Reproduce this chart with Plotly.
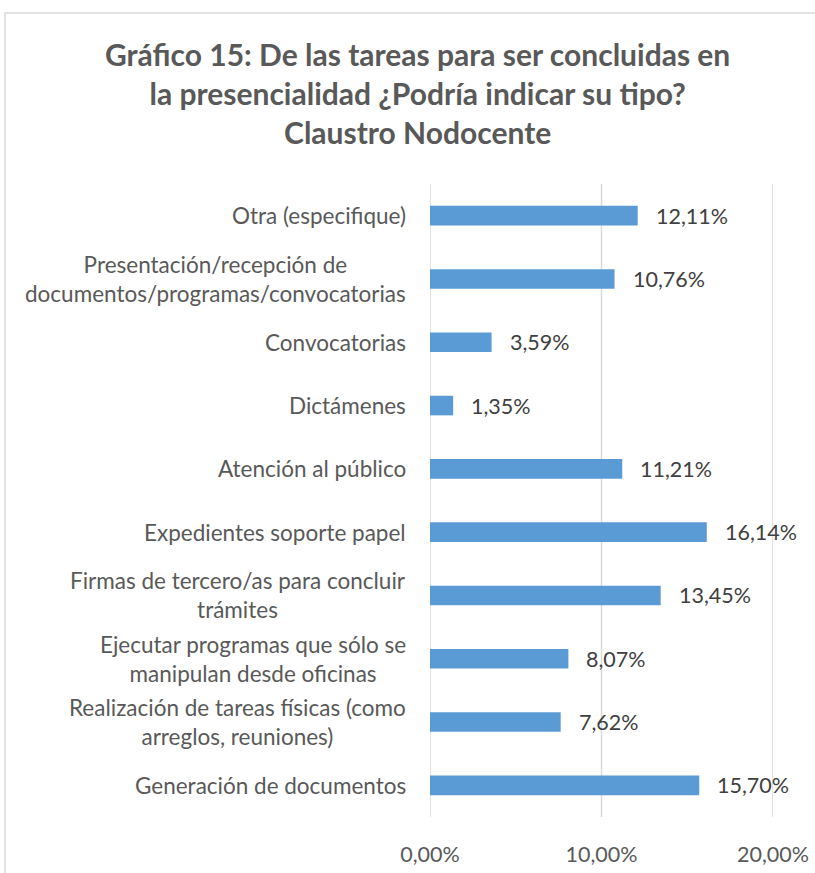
import plotly.graph_objects as go

categories = [
    "Otra (especifique)",
    "Presentación/recepción de<br>documentos/programas/convocatorias",
    "Convocatorias",
    "Dictámenes",
    "Atención al público",
    "Expedientes soporte papel",
    "Firmas de tercero/as para concluir<br>trámites",
    "Ejecutar programas que sólo se<br>manipulan desde oficinas",
    "Realización de tareas físicas (como<br>arreglos, reuniones)",
    "Generación de documentos",
]
values = [12.11, 10.76, 3.59, 1.35, 11.21, 16.14, 13.45, 8.07, 7.62, 15.70]
tick_vals = [0, 10, 20]
tick_text = ["0,00%", "10,00%", "20,00%"]
title_text = ("Gráfico 15: De las tareas para ser concluidas en<br>"
              "la presencialidad ¿Podría indicar su tipo?<br>Claustro Nodocente")

FONT = "Lato"
PLOT_L, PLOT_R, PLOT_T, PLOT_B = 430, 773, 184, 817
PW, PH = PLOT_R - PLOT_L, PLOT_B - PLOT_T

fig = go.Figure()
fig.add_trace(go.Bar(
    x=values, y=categories, orientation="h",
    marker=dict(color="#5b9bd5", line=dict(width=0)),
    width=0.31, hoverinfo="skip",
))

# vertical gridlines at the tick values
for tv in tick_vals:
    fig.add_shape(type="line", xref="x", yref="paper", x0=tv, x1=tv, y0=0, y1=1,
                  line=dict(color="#d9d9d9", width=1.5), layer="below")

for c, v in zip(categories, values):
    fig.add_annotation(x=0, y=c, xref="x", yref="y", text=c, showarrow=False,
                       xanchor="right", yanchor="middle", align="center", xshift=-22,
                       font=dict(family=FONT, size=22.5, color="#595959"))
    fig.add_annotation(x=v, y=c, xref="x", yref="y",
                       text=f"{v:.2f}%".replace(".", ","), showarrow=False,
                       xanchor="left", yanchor="middle", xshift=16,
                       font=dict(family=FONT, size=21.5, color="#404040"))

# title
fig.add_annotation(x=(417.5 - PLOT_L) / PW, y=(PLOT_B - 93) / PH, xref="paper", yref="paper",
                   text=title_text, showarrow=False, xanchor="center", yanchor="middle",
                   align="center",
                   font=dict(family=FONT, size=30, color="#595959", weight="bold"))

# chart border
fig.add_shape(type="rect", xref="paper", yref="paper",
              x0=(5 - PLOT_L) / PW, x1=(830 - PLOT_L) / PW,
              y0=(PLOT_B - 885) / PH, y1=(PLOT_B - 13) / PH,
              line=dict(color="#d9d9d9", width=1.5), layer="below")

fig.update_layout(
    width=815, height=873,
    margin=dict(l=PLOT_L, r=815 - PLOT_R, t=PLOT_T, b=873 - PLOT_B, autoexpand=False),
    paper_bgcolor="white", plot_bgcolor="white",
    showlegend=False,
    xaxis=dict(range=[0, 20], tickvals=tick_vals, ticktext=tick_text,
               showgrid=False, zeroline=False, showline=False, ticks="",
               automargin=False, ticklabelstandoff=22,
               tickfont=dict(family=FONT, size=21.5, color="#595959")),
    yaxis=dict(categoryorder="array", categoryarray=categories[::-1],
               showticklabels=False, showgrid=False, zeroline=False,
               automargin=False, showline=False, ticks="", range=[-0.5, 9.5]),
)

fig.write_html("out.html", config={"displayModeBar": False},
               post_script="document.body.style.margin='0';document.body.style.overflow='hidden';")
